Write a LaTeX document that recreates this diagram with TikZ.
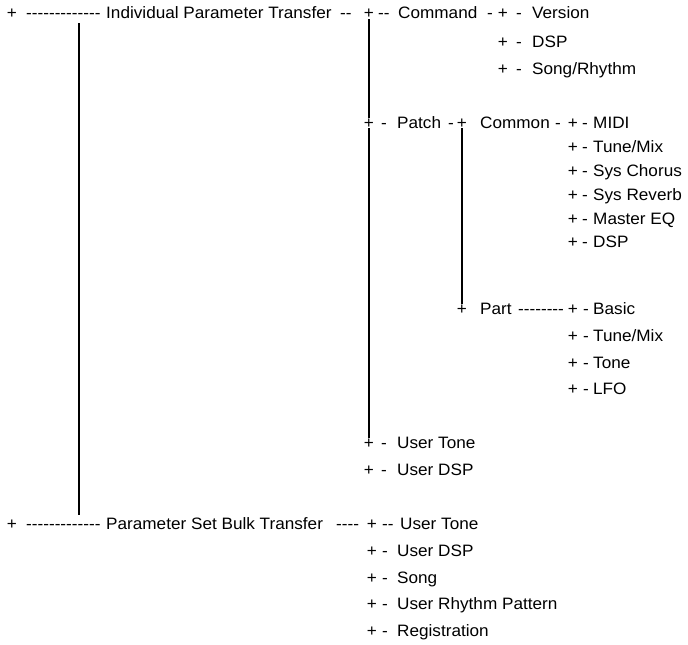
\documentclass[tikz,border=0pt]{standalone}
\usepackage{fontspec}
\setmainfont{Liberation Sans}[FakeStretch=1.04,Ligatures=TeXOff]
\usepackage{tikz}

\tikzset{
  txt/.style={anchor=base west, inner sep=0pt, font=\fontsize{16.5}{18}\selectfont},
  plus/.style={anchor=base, inner sep=0pt, font=\fontsize{16.5}{18}\selectfont},
  tree/.style={line width=1.1pt}
}

\begin{document}
\begin{tikzpicture}[x=1pt,y=-1pt]
        \useasboundingbox (0,0) rectangle (688,645);
        % Individual Parameter Transfer:
        \node[plus] (a1) at (12,19) {+};
        \foreach \x/\t [count=\i] in {26/-------------,106/Individual Parameter Transfer,340/--,378/--,398/Command,487/-}
            \node[txt] (ipt\i) at (\x,19) {\t};
        \node[plus] (b1) at (369,19) {+};
        %command
        \foreach \y/\t [count=\i] in {19/Version,47/DSP,74/{Song/Rhythm}} {
            \node[plus] (cmd\i) at (503,\y) {+};
            \node[txt] (cmdd\i) at (516,\y) {-};
            \node[txt] (cmdt\i) at (532,\y) {\t};
        }

        %patch
        \node[plus] (b2) at (369,128) {+};
        \foreach \x/\t [count=\i] in {381/-,397/Patch,448/-}
            \node[txt] (pat\i) at (\x,128) {\t};
        \node[plus] (d1) at (462,128) {+};
        \foreach \x/\t [count=\i] in {480/Common,555/-}
            \node[txt] (com\i) at (\x,128) {\t};
        \foreach \y/\t [count=\i] in {128/MIDI,152/{Tune/Mix},176/Sys Chorus,200/Sys Reverb,224/Master EQ,247/DSP} {
            \node[plus] (comp\i) at (573,\y) {+};
            \node[txt] (comd\i) at (582,\y) {-};
            \node[txt] (comt\i) at (593,\y) {\t};
        }
        \node[plus] (d2) at (462,314) {+};
        \node[txt] (part1) at (480,314) {Part};
        \node[txt] (part2) at (518,314) {--------};
        \foreach \y/\t [count=\i] in {314/Basic,341/{Tune/Mix},368/Tone,394/LFO} {
            \node[plus] (partp\i) at (573,\y) {+};
            \node[txt] (partd\i) at (583,\y) {-};
            \node[txt] (partt\i) at (593,\y) {\t};
        }

        %user tone / dsp
        \node[plus] (b3) at (369,448) {+};
        \node[txt] (ut1) at (381,448) {-};
        \node[txt] (ut2) at (397,448) {User Tone};
        \node[plus] (b4) at (369,475) {+};
        \node[txt] (ud1) at (381,475) {-};
        \node[txt] (ud2) at (397,475) {User DSP};

        % Parameter Set Bulk Transfer:
        \node[plus] (a2) at (12,529) {+};
        \foreach \x/\t [count=\i] in {26/-------------,106/Parameter Set Bulk Transfer,336/----}
            \node[txt] (bulk\i) at (\x,529) {\t};
        \foreach \y/\d/\x/\t [count=\i] in {529/--/400/User Tone,556/-/397/User DSP,583/-/397/Song,609/-/397/User Rhythm Pattern,636/-/397/Registration} {
            \node[plus] (bp\i) at (372,\y) {+};
            \node[txt] (bd\i) at (382,\y) {\d};
            \node[txt] (bt\i) at (\x,\y) {\t};
        }

        %lines
        \coordinate (topA) at (79,23);
        \coordinate (botA) at (79,515);
        \draw[tree] (topA) -- (botA);
        \draw[tree] (b1.south) -- (b2.north);
        \draw[tree] (b2.south) -- (b3.north);
        \draw[tree] (d1.south) -- (d2.north);
    \end{tikzpicture}
\end{document}
